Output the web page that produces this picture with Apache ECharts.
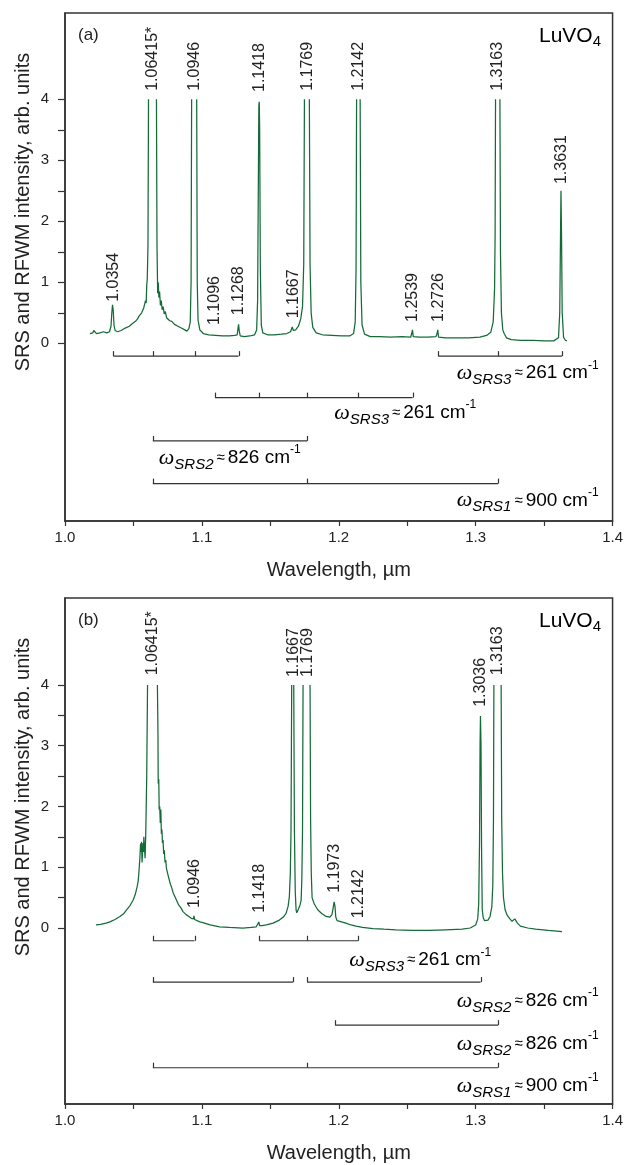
<!DOCTYPE html>
<html><head><meta charset="utf-8">
<script src="https://cdn.jsdelivr.net/npm/echarts@6/dist/echarts.min.js"></script>
<style>html,body{margin:0;padding:0;background:#fff}#c{width:626px;height:1165px}</style>
</head><body><div id="c"></div><script>
// ---------------- data ----------------
const specA = [[1.0182,0.16],[1.0195,0.18],[1.0203,0.17],[1.0210,0.21],[1.0218,0.18],[1.0230,0.16],[1.0255,0.17],[1.0280,0.19],[1.0305,0.17],[1.0325,0.19],[1.0336,0.28],[1.0342,0.50],[1.0347,0.63],[1.0352,0.55],[1.0358,0.30],[1.0366,0.21],[1.0385,0.19],[1.0410,0.21],[1.0440,0.25],[1.0470,0.28],[1.0495,0.33],[1.0515,0.36],[1.0530,0.40],[1.0542,0.45],[1.0552,0.43],[1.0560,0.50],[1.0568,0.47],[1.0575,0.58],[1.0582,0.55],[1.0588,0.70],[1.0593,0.66],[1.0597,0.95],[1.0601,1.05],[1.0606,1.6],[1.0610,4.0],[1.06415,'-'],[1.0668,4.0],[1.0672,1.6],[1.0677,0.82],[1.0681,1.0],[1.0686,0.75],[1.0691,0.85],[1.0697,0.62],[1.0703,0.70],[1.0710,0.55],[1.0717,0.60],[1.0725,0.48],[1.0733,0.52],[1.0742,0.42],[1.0752,0.45],[1.0765,0.37],[1.0780,0.36],[1.0800,0.31],[1.0825,0.28],[1.0850,0.25],[1.0875,0.22],[1.0890,0.20],[1.0905,0.24],[1.0915,0.35],[1.0921,1.0],[1.0925,4.0],[1.0944,'-'],[1.0962,4.0],[1.0966,1.0],[1.0972,0.38],[1.0985,0.22],[1.1010,0.16],[1.1050,0.14],[1.1100,0.13],[1.1150,0.12],[1.1200,0.12],[1.1240,0.13],[1.1258,0.14],[1.1264,0.25],[1.1268,0.31],[1.1273,0.20],[1.1280,0.12],[1.1310,0.11],[1.1350,0.12],[1.1385,0.14],[1.1400,0.22],[1.1407,0.7],[1.1412,2.5],[1.1416,3.9],[1.1419,3.96],[1.1422,3.5],[1.1427,1.2],[1.1434,0.3],[1.1445,0.17],[1.1480,0.14],[1.1530,0.14],[1.1580,0.15],[1.1620,0.16],[1.1648,0.19],[1.1660,0.27],[1.1668,0.21],[1.1685,0.22],[1.1705,0.28],[1.1722,0.40],[1.1735,0.6],[1.1744,1.3],[1.1749,4.0],[1.1767,'-'],[1.1785,4.0],[1.1790,1.3],[1.1798,0.5],[1.1810,0.26],[1.1835,0.17],[1.1880,0.14],[1.1950,0.13],[1.2020,0.12],[1.2080,0.12],[1.2108,0.16],[1.2120,0.35],[1.2126,1.2],[1.2130,4.0],[1.2143,'-'],[1.2156,4.0],[1.2161,1.0],[1.2170,0.3],[1.2188,0.15],[1.2230,0.11],[1.2300,0.11],[1.2380,0.10],[1.2460,0.11],[1.2525,0.10],[1.2533,0.16],[1.2538,0.22],[1.2544,0.11],[1.2590,0.10],[1.2650,0.10],[1.2710,0.11],[1.2718,0.16],[1.2723,0.22],[1.2729,0.10],[1.2780,0.09],[1.2860,0.09],[1.2950,0.09],[1.3030,0.10],[1.3080,0.13],[1.3110,0.18],[1.3128,0.35],[1.3138,0.9],[1.3142,1.8],[1.3145,4.0],[1.3161,'-'],[1.3177,4.0],[1.3181,1.5],[1.3188,0.5],[1.3198,0.22],[1.3208,0.16],[1.3215,0.13],[1.3225,0.09],[1.3260,0.06],[1.3330,0.05],[1.3420,0.05],[1.3500,0.04],[1.3570,0.04],[1.3605,0.09],[1.3614,0.5],[1.3619,1.6],[1.3623,2.50],[1.3627,1.8],[1.3632,0.5],[1.3642,0.10],[1.3655,0.05],[1.3667,0.04]];

const specB = [[1.0226,0.05],[1.0260,0.06],[1.0300,0.08],[1.0328,0.10],[1.0365,0.14],[1.0401,0.19],[1.0430,0.24],[1.0450,0.30],[1.0475,0.37],[1.0498,0.46],[1.0513,0.55],[1.0527,0.68],[1.0535,0.78],[1.0541,0.95],[1.0547,1.15],[1.0552,1.39],[1.0556,1.25],[1.0559,1.42],[1.0563,1.08],[1.0566,1.07],[1.0570,1.40],[1.0573,1.25],[1.0576,1.50],[1.0581,1.30],[1.0585,1.15],[1.0590,1.56],[1.0597,2.5],[1.0603,4.0],[1.0640,'-'],[1.0675,4.0],[1.0679,3.2],[1.0681,2.38],[1.0685,2.45],[1.0688,1.95],[1.0692,2.0],[1.0696,1.73],[1.0700,1.95],[1.0704,1.55],[1.0708,1.62],[1.0712,1.40],[1.0716,1.45],[1.0721,1.22],[1.0725,1.28],[1.0731,1.08],[1.0736,1.12],[1.0741,0.98],[1.0748,1.00],[1.0755,0.85],[1.0762,0.82],[1.0770,0.72],[1.0777,0.68],[1.0790,0.58],[1.0800,0.55],[1.0814,0.46],[1.0830,0.38],[1.0845,0.34],[1.0862,0.27],[1.0885,0.22],[1.0905,0.19],[1.0923,0.16],[1.0938,0.15],[1.0942,0.20],[1.0947,0.14],[1.0960,0.12],[1.0985,0.10],[1.1008,0.09],[1.1060,0.05],[1.1129,0.02],[1.1200,0.01],[1.1299,0.00],[1.1360,0.01],[1.1397,0.02],[1.1410,0.04],[1.1416,0.10],[1.1421,0.04],[1.1440,0.04],[1.1470,0.05],[1.1520,0.08],[1.1566,0.13],[1.1595,0.18],[1.1615,0.24],[1.1630,0.36],[1.1639,0.52],[1.1646,0.9],[1.1651,1.6],[1.1656,4.0],[1.1663,'-'],[1.1671,4.0],[1.1676,1.6],[1.1682,0.6],[1.1688,0.30],[1.1693,0.25],[1.1700,0.28],[1.1707,0.32],[1.1717,0.38],[1.1725,0.46],[1.1730,0.8],[1.1735,1.6],[1.1739,4.0],[1.1765,'-'],[1.1790,4.0],[1.1794,1.8],[1.1799,0.9],[1.1805,0.50],[1.1820,0.40],[1.1846,0.30],[1.1875,0.24],[1.1907,0.19],[1.1935,0.18],[1.1950,0.22],[1.1958,0.32],[1.1966,0.43],[1.1972,0.36],[1.1978,0.18],[1.1988,0.12],[1.2020,0.10],[1.2052,0.08],[1.2090,0.05],[1.2125,0.03],[1.2173,0.01],[1.2250,-0.01],[1.2330,-0.02],[1.2417,-0.03],[1.2540,-0.04],[1.2659,-0.04],[1.2780,-0.03],[1.2902,-0.02],[1.2960,0.00],[1.3000,0.05],[1.3015,0.15],[1.3022,0.4],[1.3028,1.4],[1.3032,3.0],[1.3035,3.49],[1.3039,3.0],[1.3043,1.3],[1.3048,0.30],[1.3055,0.17],[1.3065,0.12],[1.3075,0.11],[1.3090,0.13],[1.3105,0.19],[1.3118,0.35],[1.3125,0.7],[1.3130,1.8],[1.3133,4.0],[1.3160,'-'],[1.3186,4.0],[1.3190,1.8],[1.3196,0.9],[1.3203,0.50],[1.3215,0.30],[1.3230,0.21],[1.3250,0.15],[1.3266,0.11],[1.3278,0.13],[1.3286,0.15],[1.3294,0.12],[1.3305,0.08],[1.3327,0.03],[1.3380,0.00],[1.3437,-0.02],[1.3530,-0.04],[1.3631,-0.06]];

// peak labels: wavelength, text, intensity level where label starts
const peaksA = [1.0354, 1.06415, 1.0946, 1.1096, 1.1268, 1.1418, 1.1667, 1.1769, 1.2142, 1.2539, 1.2726, 1.3163, 1.3631];
const peakTextA = ['1.0354','1.06415*','1.0946','1.1096','1.1268','1.1418','1.1667','1.1769','1.2142','1.2539','1.2726','1.3163','1.3631'];
const peakLevelA = [0.68, 4.14, 4.14, 0.30, 0.46, 4.12, 0.41, 4.14, 4.14, 0.35, 0.35, 4.14, 2.61];

const peaksB = [1.06415, 1.0946, 1.1418, 1.1667, 1.1769, 1.1973, 1.2142, 1.3036, 1.3163];
const peakTextB = ['1.06415*','1.0946','1.1418','1.1667','1.1769','1.1973','1.2142','1.3036','1.3163'];
const peakLevelB = [4.16, 0.33, 0.25, 4.13, 4.13, 0.58, 0.16, 3.64, 4.16];

// Raman-shift combs (wavelengths joined by brackets) and their row
const combsA = [[1.0354,1.06415,1.0946,1.1268],[1.2726,1.3163,1.3631],[1.1096,1.1418,1.1769,1.2142,1.2539],[1.06415,1.1769],[1.06415,1.1769,1.3163]];
const combRowA = [0,0,1,2,3];
const combsB = [[1.06415,1.0946],[1.1418,1.1769,1.2142],[1.06415,1.1667],[1.1769,1.3036],[1.1973,1.3163],[1.06415,1.1769,1.3163]];
const combRowB = [0,0,1,1,2,3];

// shift labels per row
const shiftModeA = ['SRS3','SRS3','SRS2','SRS1'];
const shiftValA  = ['261','261','826','900'];
const shiftModeB = ['SRS3','SRS2','SRS2','SRS1'];
const shiftValB  = ['261','826','826','900'];

const xTicks = [1.0, 1.1, 1.2, 1.3, 1.4];
const yTicks = [0, 1, 2, 3, 4];

// ---------------- layout ----------------
const FONT = "'Liberation Sans', Arial, Helvetica, sans-serif";
const GREEN = '#146b38';
const INK = '#222';
const rowLevels = [-0.21, -0.89, -1.60, -2.30];
const layoutA = {top: 13, height: 508, min: -2.913, max: 5.415,
  labAnchors: [[1.3898,-0.49,'right'],[1.1967,-1.14,'left'],[1.0685,-1.88,'left'],[1.3898,-2.58,'right']]};
const layoutB = {top: 598, height: 506, min: -2.897, max: 5.432,
  labAnchors: [[1.2077,-0.53,'left'],[1.3898,-1.20,'right'],[1.3898,-1.91,'right'],[1.3898,-2.60,'right']]};

const chart = echarts.init(document.getElementById('c'), null, {renderer: 'canvas'});

function xAxisDef(i) {
  return {
    type: 'value', gridIndex: i, min: 1.0, max: 1.4, interval: 0.1,
    name: 'Wavelength, µm', nameLocation: 'middle', nameGap: 39,
    nameTextStyle: {fontFamily: FONT, fontSize: 20, color: INK},
    axisLine: {show: true, onZero: false, lineStyle: {color: '#333', width: 1.5}},
    axisTick: {show: true, inside: false, length: 5, lineStyle: {color: '#333', width: 1.2}},
    minorTick: {show: true, splitNumber: 2, length: 5, lineStyle: {color: '#333', width: 1.2}},
    axisLabel: {show: true, margin: 9, fontFamily: FONT, fontSize: 15, color: INK,
      showMinLabel: true, showMaxLabel: true,
      formatter: v => (xTicks.some(t => Math.abs(t - v) < 1e-9) ? v.toFixed(1) : '')},
    splitLine: {show: false}
  };
}
function yAxisDef(i, L) {
  return {
    type: 'value', gridIndex: i, min: L.min, max: L.max,
    axisLine: {show: true, onZero: false, lineStyle: {color: '#333', width: 1.5}},
    axisTick: {show: true, inside: false, length: 7, lineStyle: {color: '#333', width: 1.2},
      customValues: [0, 0.5, 1, 1.5, 2, 2.5, 3, 3.5, 4]},
    axisLabel: {show: true, margin: 16, fontFamily: FONT, fontSize: 15, color: INK,
      customValues: yTicks, formatter: v => String(Math.round(v))},
    splitLine: {show: false}
  };
}

function peakLabelSeries(i, peaks, texts, levels) {
  return {
    type: 'custom', xAxisIndex: i, yAxisIndex: i, silent: true, z: 5,
    data: peaks.map((p, k) => [p, levels[k]]),
    renderItem: (params, api) => {
      const pt = api.coord([api.value(0), api.value(1)]);
      return {type: 'text', x: pt[0], y: pt[1], rotation: Math.PI / 2,
        style: {text: texts[params.dataIndex], fill: INK, font: '16px ' + FONT,
          align: 'left', verticalAlign: 'middle'}};
    }
  };
}

function combSeries(i, combs, rows) {
  return {
    type: 'custom', xAxisIndex: i, yAxisIndex: i, silent: true, z: 5,
    data: combs.map((c, k) => [c[0], rowLevels[rows[k]]]),
    renderItem: (params, api) => {
      const c = combs[params.dataIndex];
      const y = rowLevels[rows[params.dataIndex]];
      const a = api.coord([c[0], y]), b = api.coord([c[c.length - 1], y]);
      const st = {stroke: '#333', lineWidth: 1.2};
      const children = [{type: 'line', shape: {x1: a[0], y1: a[1], x2: b[0], y2: b[1]}, style: st}];
      c.forEach(w => {
        const p = api.coord([w, y]);
        const xx = Math.round(p[0]) + 0.5;
        children.push({type: 'line', shape: {x1: xx, y1: p[1], x2: xx, y2: p[1] - 5}, style: st});
      });
      return {type: 'group', children};
    }
  };
}

const richShift = {
  w: {fontFamily: "'Liberation Serif', 'DejaVu Serif', serif", fontStyle: 'italic', fontSize: 22, lineHeight: 28, verticalAlign: 'middle', color: INK},
  s: {fontFamily: FONT, fontStyle: 'italic', fontSize: 15, lineHeight: 15, verticalAlign: 'bottom', color: INK},
  e: {fontFamily: FONT, fontSize: 15, lineHeight: 28, verticalAlign: 'middle', color: INK, padding: [0, 3, 0, 3]},
  m: {fontFamily: FONT, fontSize: 19, lineHeight: 28, verticalAlign: 'middle', color: INK},
  p: {fontFamily: FONT, fontSize: 12, lineHeight: 12, verticalAlign: 'top', color: INK}
};

function shiftLabelSeries(i, modes, vals, L) {
  return {
    type: 'custom', xAxisIndex: i, yAxisIndex: i, silent: true, z: 5,
    data: L.labAnchors.map(a => [a[0], a[1]]),
    renderItem: (params, api) => {
      const k = params.dataIndex;
      const pt = api.coord([api.value(0), api.value(1)]);
      return {type: 'text', x: pt[0], y: pt[1],
        style: {text: '{w|ω}{s|' + modes[k] + '}{e|≈}{m|' + vals[k] + ' cm}{p|-1}',
          rich: richShift, align: L.labAnchors[k][2], verticalAlign: 'middle'}};
    }
  };
}

function specSeries(i, data) {
  return {type: 'line', xAxisIndex: i, yAxisIndex: i, data, showSymbol: false, symbol: 'none',
    connectNulls: false, clip: true, z: 3,
    lineStyle: {color: GREEN, width: 1.25}, silent: true};
}

const subRich = {
  n: {fontFamily: FONT, fontSize: 21, lineHeight: 26, verticalAlign: 'middle', color: INK},
  d: {fontFamily: FONT, fontSize: 15, lineHeight: 15, verticalAlign: 'bottom', color: INK}
};

chart.setOption({
  animation: false,
  backgroundColor: '#fff',
  grid: [
    {left: 65, top: layoutA.top, width: 548, height: layoutA.height, show: true, borderColor: '#333', borderWidth: 1.5, containLabel: false},
    {left: 65, top: layoutB.top, width: 548, height: layoutB.height, show: true, borderColor: '#333', borderWidth: 1.5, containLabel: false}
  ],
  xAxis: [xAxisDef(0), xAxisDef(1)],
  yAxis: [yAxisDef(0, layoutA), yAxisDef(1, layoutB)],
  series: [
    specSeries(0, specA), specSeries(1, specB),
    peakLabelSeries(0, peaksA, peakTextA, peakLevelA),
    peakLabelSeries(1, peaksB, peakTextB, peakLevelB),
    combSeries(0, combsA, combRowA), combSeries(1, combsB, combRowB),
    shiftLabelSeries(0, shiftModeA, shiftValA, layoutA),
    shiftLabelSeries(1, shiftModeB, shiftValB, layoutB)
  ],
  graphic: [
    {type: 'text', x: 23, y: 212, rotation: Math.PI / 2,
      style: {text: 'SRS and RFWM intensity, arb. units', font: '20px ' + FONT, fill: INK, align: 'center', verticalAlign: 'middle'}},
    {type: 'text', x: 23, y: 797, rotation: Math.PI / 2,
      style: {text: 'SRS and RFWM intensity, arb. units', font: '20px ' + FONT, fill: INK, align: 'center', verticalAlign: 'middle'}},
    {type: 'text', x: 78, y: 35, style: {text: '(a)', font: '17px ' + FONT, fill: INK, align: 'left', verticalAlign: 'middle'}},
    {type: 'text', x: 78, y: 620, style: {text: '(b)', font: '17px ' + FONT, fill: INK, align: 'left', verticalAlign: 'middle'}},
    {type: 'text', x: 601, y: 36, style: {text: '{n|LuVO}{d|4}', rich: subRich, align: 'right', verticalAlign: 'middle'}},
    {type: 'text', x: 601, y: 621, style: {text: '{n|LuVO}{d|4}', rich: subRich, align: 'right', verticalAlign: 'middle'}}
  ]
});
</script></body></html>
